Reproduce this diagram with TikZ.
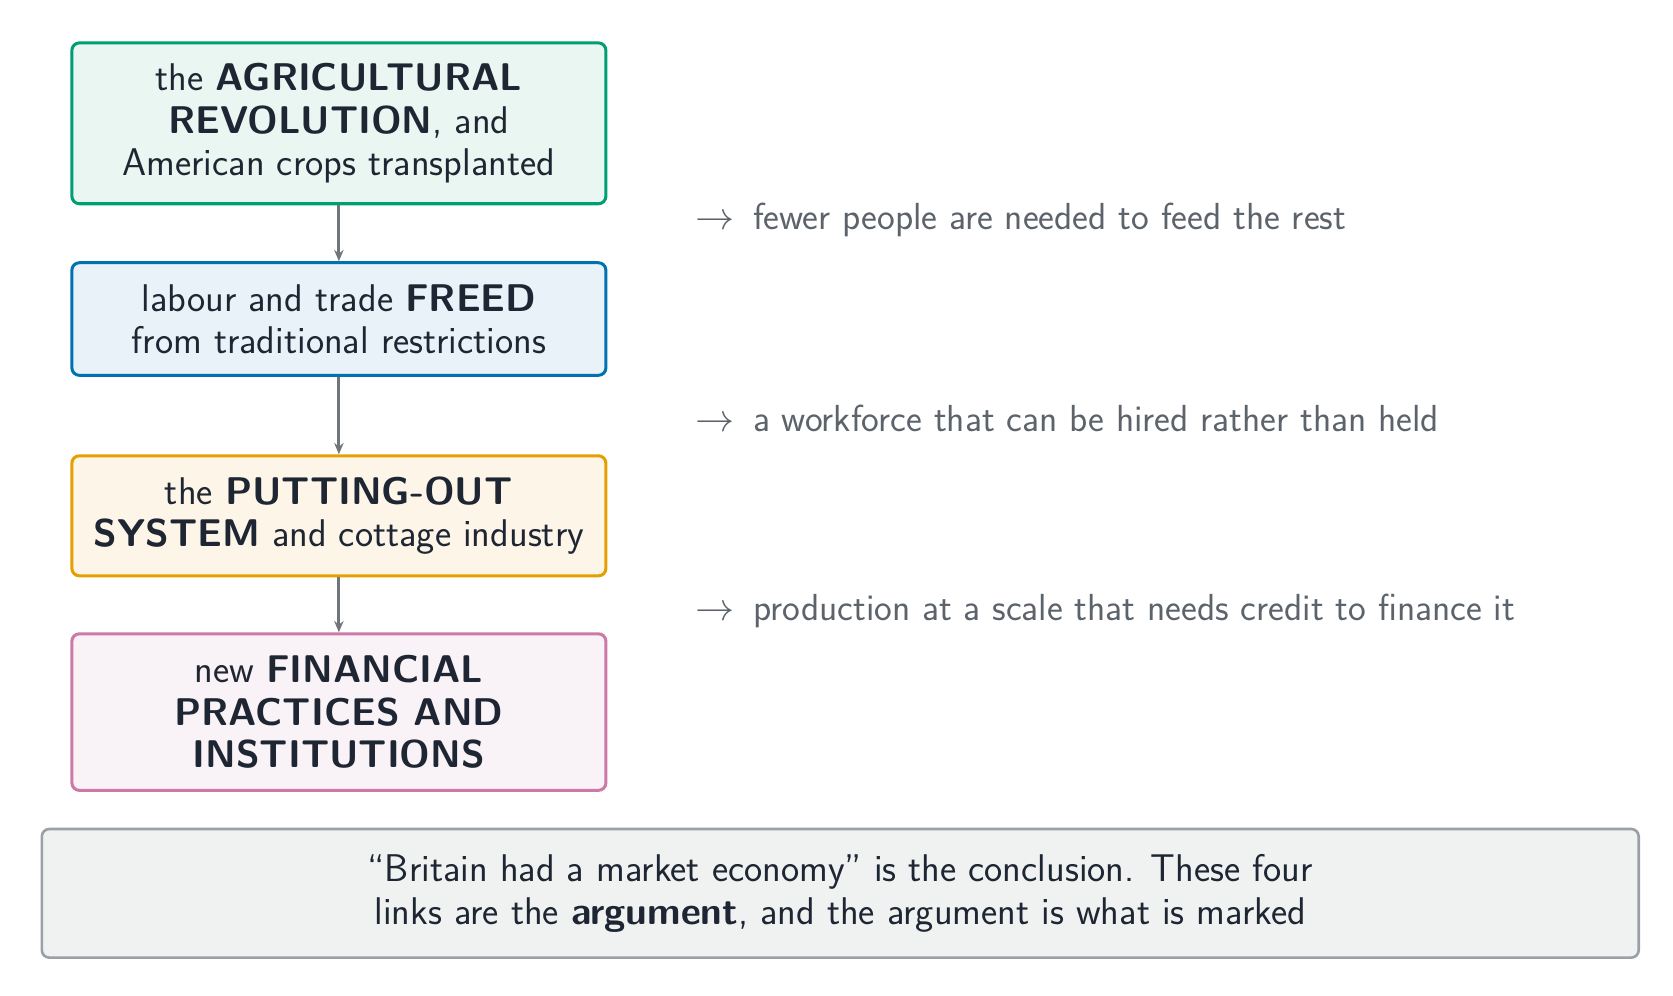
\documentclass[tikz,border=0pt]{standalone}
\usepackage{amsmath}
\usetikzlibrary{positioning,arrows.meta}
\definecolor{inkdark}{HTML}{1F2633}
\definecolor{inkgrey}{HTML}{5C636B}
\definecolor{linkgrey}{HTML}{70757B}
\definecolor{agriline}{HTML}{009E73}\definecolor{agrifill}{HTML}{EAF6F1}
\definecolor{freeline}{HTML}{0072B2}\definecolor{freefill}{HTML}{EAF2F9}
\definecolor{putline}{HTML}{E69F00}\definecolor{putfill}{HTML}{FDF6E8}
\definecolor{finline}{HTML}{CC79A7}\definecolor{finfill}{HTML}{F9F2F6}
\definecolor{noteline}{HTML}{9BA0A6}\definecolor{notefill}{HTML}{F0F2F2}
\tikzset{
  stage/.style={rectangle, rounded corners=4pt, line width=1.6pt, minimum width=498*0.02cm,
    align=center, text=inkdark, font=\sffamily\fontsize{20.5}{22.5}\selectfont},
  link/.style={-{Stealth[length=6pt,width=5pt]}, linkgrey, line width=1.5pt},
  gloss/.style={anchor=west, text=inkgrey, font=\sffamily\fontsize{20}{22}\selectfont}
}
\begin{document}
\begin{tikzpicture}[x=0.02cm,y=0.02cm]
      \useasboundingbox (0,0) rectangle (1560,928);

      \node [stage, draw=agriline, fill=agrifill, minimum height=150*0.02cm] (agri) at (316,813)
        {the \textbf{AGRICULTURAL}\\\textbf{REVOLUTION}, and\\American crops transplanted};
      \node [stage, draw=freeline, fill=freefill, minimum height=105*0.02cm] (freed) at (316,630.5)
        {labour and trade \textbf{FREED}\\from traditional restrictions};
      \node [stage, draw=putline, fill=putfill, minimum height=112*0.02cm] (putout) at (316,447)
        {the \textbf{PUTTING-OUT}\\\textbf{SYSTEM} and cottage industry};
      \node [stage, draw=finline, fill=finfill, minimum height=146*0.02cm] (finance) at (316,264)
        {new \textbf{FINANCIAL}\\\textbf{PRACTICES AND}\\\textbf{INSTITUTIONS}};

      \draw [link] (agri) -- (freed);
      \draw [link] (freed) -- (putout);
      \draw [link] (putout) -- (finance);

      \node [gloss] (g1) at (642,723) {$\rightarrow$\enspace fewer people are needed to feed the rest};
      \node [gloss] (g2) at (642,538) {$\rightarrow$\enspace a workforce that can be hired rather than held};
      \node [gloss] (g3) at (642,358) {$\rightarrow$\enspace production at a scale that needs credit to finance it};

      \node [stage, draw=noteline, fill=notefill, line width=1.4pt, minimum width=1489*0.02cm,
        minimum height=120*0.02cm] (note) at (783.5,95)
        {``Britain had a market economy'' is the conclusion. These four\\links are the \textbf{argument}, and the argument is what is marked};

    \end{tikzpicture}
\end{document}
